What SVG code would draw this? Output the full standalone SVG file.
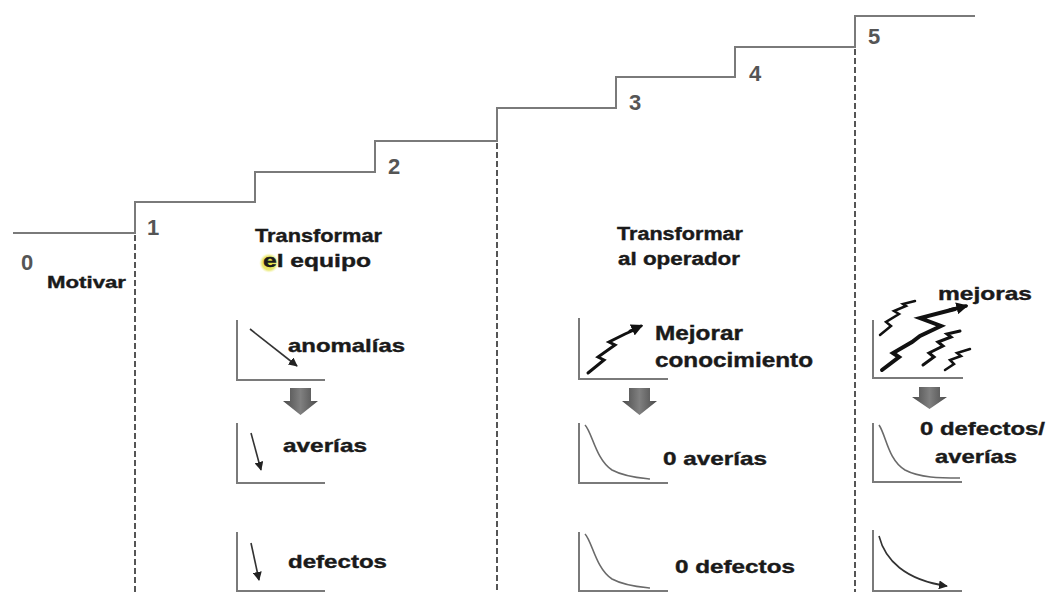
<svg xmlns="http://www.w3.org/2000/svg" width="1055" height="592" viewBox="0 0 1055 592">
<style>
.t{font-family:"Liberation Sans",Arial,sans-serif;font-weight:bold;font-size:19px;fill:#1a1a1a;stroke:#1a1a1a;stroke-width:0.4}
.d{font-family:"Liberation Sans",Arial,sans-serif;font-weight:bold;font-size:22px;fill:#555}
.ax{fill:none;stroke:#7a7a7a;stroke-width:2}
.st{fill:none;stroke:#7a7a7a;stroke-width:2}
.dash{fill:none;stroke:#555;stroke-width:2;stroke-dasharray:6 3}
.thin{fill:none;stroke:#333;stroke-width:1.6}
.crv{fill:none;stroke:#6a6a6a;stroke-width:1.6}
.bolt{fill:none;stroke:#111;stroke-linejoin:miter;stroke-linecap:round}
.blk{fill:url(#gArrow)}
</style>
<defs>
<linearGradient id="gArrow" x1="0" y1="0" x2="1" y2="0">
<stop offset="0" stop-color="#4a4a4a"/>
<stop offset="0.5" stop-color="#808080"/>
<stop offset="1" stop-color="#4a4a4a"/>
</linearGradient>
<marker id="ah" viewBox="0 0 10 10" refX="9" refY="5" markerWidth="9" markerHeight="9" markerUnits="userSpaceOnUse" orient="auto">
<path d="M0,0 L10,5 L0,10 z" fill="#222"/>
</marker>
<marker id="ahb" viewBox="0 0 10 10" refX="8" refY="5" markerWidth="12" markerHeight="12" markerUnits="userSpaceOnUse" orient="auto">
<path d="M0,0 L10,5 L0,10 z" fill="#111"/>
</marker>
<radialGradient id="hl" cx="0.5" cy="0.5" r="0.5">
<stop offset="0" stop-color="#e0e030"/>
<stop offset="0.7" stop-color="#e8e870"/>
<stop offset="1" stop-color="#f6f6c0" stop-opacity="0"/>
</radialGradient>
</defs>

<g id="connectors">
<polyline class="st" points="13,233 135,233 135,202 255,202 255,172 375,172 375,141 497,141 497,108 616,108 616,77 735,77 735,47 855,47 855,16 975,16"/>
<line class="dash" x1="135" y1="235" x2="135" y2="592"/>
<line class="dash" x1="497" y1="143" x2="497" y2="592"/>
<line class="dash" x1="855" y1="49" x2="855" y2="592"/>
</g>

<g id="step-labels">
<text class="d" x="21" y="270">0</text>
<text class="d" x="147" y="235">1</text>
<text class="d" x="388" y="174">2</text>
<text class="d" x="629" y="110">3</text>
<text class="d" x="749" y="81">4</text>
<text class="d" x="868" y="44">5</text>
</g>

<g id="node-motivar">
<text class="t" style="font-size:17px" x="47" y="288" textLength="79" lengthAdjust="spacingAndGlyphs">Motivar</text>
</g>

<g id="node-equipo">
<ellipse cx="269" cy="263" rx="10" ry="10" fill="url(#hl)"/>
<text class="t" x="255" y="242" textLength="127" lengthAdjust="spacingAndGlyphs">Transformar</text>
<text class="t" x="263" y="267" textLength="108" lengthAdjust="spacingAndGlyphs">el equipo</text>
</g>

<g id="node-anomalias">
<path class="ax" d="M237,320 V380 H325"/>
<line class="thin" x1="250" y1="329" x2="297" y2="366" marker-end="url(#ah)"/>
<text class="t" x="288" y="352" textLength="117" lengthAdjust="spacingAndGlyphs">anomalías</text>
</g>

<g id="node-arrow-left">
<path class="blk" d="M290,388 H311 V401 H318 L300.5,415 L283,401 H290 Z"/>
</g>

<g id="node-averias-left">
<path class="ax" d="M237,423 V483 H325"/>
<line class="thin" x1="251" y1="433" x2="261" y2="470" marker-end="url(#ah)"/>
<text class="t" x="283" y="452" textLength="84" lengthAdjust="spacingAndGlyphs">averías</text>
</g>

<g id="node-defectos-left">
<path class="ax" d="M237,532 V591 H325"/>
<line class="thin" x1="251" y1="543" x2="259" y2="580" marker-end="url(#ah)"/>
<text class="t" x="288" y="568" textLength="99" lengthAdjust="spacingAndGlyphs">defectos</text>
</g>

<g id="node-operador">
<text class="t" style="font-size:18px" x="617" y="240" textLength="126" lengthAdjust="spacingAndGlyphs">Transformar</text>
<text class="t" style="font-size:18px" x="618" y="265" textLength="122" lengthAdjust="spacingAndGlyphs">al operador</text>
</g>

<g id="node-conocimiento">
<path class="ax" d="M579,318 V379 H668"/>
<polyline class="bolt" stroke-width="3" points="588,373 604,360 598,357 615,345 609,342 625,334 634,330"/>
<line class="bolt" stroke-width="3" x1="630" y1="331" x2="641" y2="326" marker-end="url(#ahb)"/>
<text class="t" style="font-size:20px" x="655" y="340" textLength="88" lengthAdjust="spacingAndGlyphs">Mejorar</text>
<text class="t" style="font-size:20px" x="655" y="367" textLength="158" lengthAdjust="spacingAndGlyphs">conocimiento</text>
</g>

<g id="node-arrow-mid">
<path class="blk" d="M629,388 H650 V401 H657 L639.5,415 L622,401 H629 Z"/>
</g>

<g id="node-averias-mid">
<path class="ax" d="M579,423 V483 H668"/>
<path class="crv" d="M585,425 C592,432 596,460 612,470 C625,477 640,478 650,479"/>
<text class="t" x="663" y="465" textLength="104" lengthAdjust="spacingAndGlyphs">0 averías</text>
</g>

<g id="node-defectos-mid">
<path class="ax" d="M579,532 V591 H668"/>
<path class="crv" d="M585,534 C592,541 596,569 612,579 C625,586 640,587 650,588"/>
<text class="t" x="675" y="573" textLength="120" lengthAdjust="spacingAndGlyphs">0 defectos</text>
</g>

<g id="node-mejoras">
<path class="ax" d="M873,320 V378 H963"/>
<polyline class="bolt" stroke-width="2.5" points="880,335 891,326 886,322 899,314 894,311 906,306 903,304 915,301"/>
<polyline class="bolt" stroke-width="4" points="882,370 899,357 893,353 912,342 920,336 941,326 920,318 955,309"/>
<line class="bolt" stroke-width="3.5" x1="950" y1="310" x2="966" y2="306" marker-end="url(#ahb)"/>
<polyline class="bolt" stroke-width="3" points="923,365 934,357 929,353 943,346 938,342 951,337 947,334 960,331"/>
<polyline class="bolt" stroke-width="2.5" points="945,370 954,364 950,360 961,356 957,353 970,349"/>
<text class="t" x="938" y="300" textLength="94" lengthAdjust="spacingAndGlyphs">mejoras</text>
</g>

<g id="node-arrow-right">
<path class="blk" d="M919,387 H940 V397 H947 L929.5,409 L912,397 H919 Z"/>
</g>

<g id="node-cero-right">
<path class="ax" d="M873,423 V482 H962"/>
<path class="crv" d="M879,425 C886,435 888,460 905,470 C920,478 940,478 960,478"/>
<text class="t" x="920" y="435" textLength="125" lengthAdjust="spacingAndGlyphs">0 defectos/</text>
<text class="t" x="935" y="463" textLength="82" lengthAdjust="spacingAndGlyphs">averías</text>
</g>

<g id="node-curve-right">
<path class="ax" d="M873,530 V591 H962"/>
<path class="thin" d="M879,536 C885,560 905,580 947,586" marker-end="url(#ah)"/>
</g>
</svg>
